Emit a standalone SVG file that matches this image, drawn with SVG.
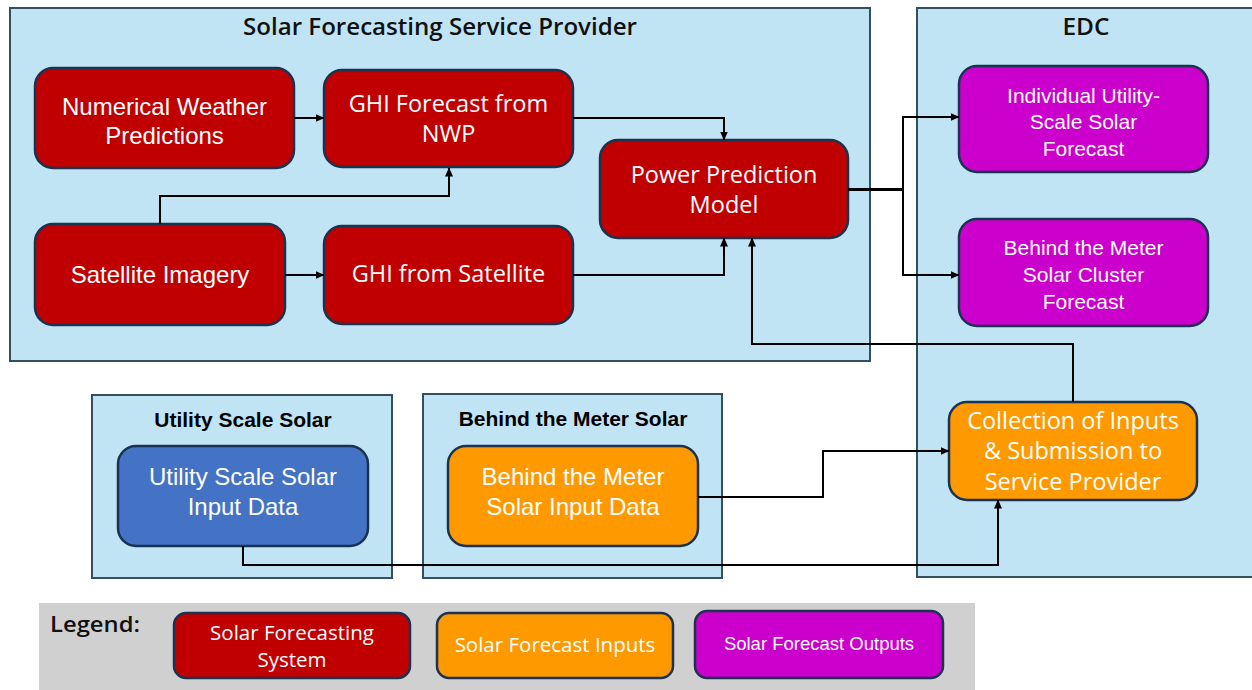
<svg xmlns="http://www.w3.org/2000/svg" width="1252" height="690" viewBox="0 0 1252 690">
<defs>
<marker id="arr" markerWidth="9" markerHeight="8" refX="8.5" refY="4" orient="auto" markerUnits="userSpaceOnUse">
<path d="M0,0 L9,4 L0,8 Z" fill="#000"/>
</marker>
<style>
.cont{fill:#C1E4F5;stroke:#34505E;stroke-width:2}
.node{stroke:#1B3350;stroke-width:2.5}
.red{fill:#C00000}
.pur{fill:#CC00CC}
.org{fill:#FF9900}
.blu{fill:#4472C4}
.ta{font-family:"Liberation Sans",Arial,sans-serif;fill:#fff;text-anchor:middle}
.tb{font-family:"Open Sans","Noto Sans",sans-serif;font-weight:500;fill:#fff;text-anchor:middle}
.head{font-family:"Open Sans","Noto Sans",sans-serif;font-weight:600;fill:#111;text-anchor:middle}
.headb{font-family:"Liberation Sans",Arial,sans-serif;font-weight:700;fill:#000;text-anchor:middle;font-size:21px}
.conn{fill:none;stroke:#000;stroke-width:2}
</style>
</defs>
<rect width="1252" height="690" fill="#fff"/>

<g id="legend">
<rect x="39" y="603" width="936" height="87" fill="#D0D0D0"/>
<text x="50" y="632" font-family="Open Sans, sans-serif" font-weight="600" font-size="22" fill="#111" textLength="90" lengthAdjust="spacingAndGlyphs">Legend:</text>
<rect class="node red" x="174" y="613" width="236" height="65" rx="12"/>
<text class="tb" font-size="20.5"><tspan x="292" y="640">Solar Forecasting</tspan><tspan x="292" y="667">System</tspan></text>
<rect class="node org" x="437" y="613" width="236" height="65" rx="12"/>
<text class="tb" x="555" y="652" font-size="20.5">Solar Forecast Inputs</text>
<rect class="node pur" x="695" y="611" width="248" height="67" rx="12"/>
<text class="ta" x="819" y="650" font-size="18.5">Solar Forecast Outputs</text>
</g>

<g id="sfsp">
<rect class="cont" x="10" y="8" width="860" height="353"/>
<text class="head" x="440" y="35" font-size="23" textLength="394" lengthAdjust="spacingAndGlyphs">Solar Forecasting Service Provider</text>
</g>
<g id="edc">
<rect class="cont" x="917" y="8" width="345" height="569"/>
<text class="head" x="1086" y="35" font-size="23" textLength="47" lengthAdjust="spacingAndGlyphs">EDC</text>
</g>
<g id="uss">
<rect class="cont" x="92" y="395" width="300" height="183"/>
<text class="headb" x="243" y="427">Utility Scale Solar</text>
</g>
<g id="btms">
<rect class="cont" x="423" y="394" width="299" height="184"/>
<text class="headb" x="573" y="426">Behind the Meter Solar</text>
</g>

<g id="nwp">
<rect class="node red" x="35" y="68" width="259" height="100" rx="18"/>
<text class="ta" font-size="24"><tspan x="164.5" y="115">Numerical Weather</tspan><tspan x="164.5" y="144">Predictions</tspan></text>
</g>
<g id="ghinwp">
<rect class="node red" x="324" y="70" width="249" height="97" rx="18"/>
<text class="tb" font-size="23.5"><tspan x="448.5" y="112">GHI Forecast from</tspan><tspan x="448.5" y="142">NWP</tspan></text>
</g>
<g id="power">
<rect class="node red" x="600" y="140" width="248" height="98" rx="18"/>
<text class="tb" font-size="23.5"><tspan x="724" y="183">Power Prediction</tspan><tspan x="724" y="213">Model</tspan></text>
</g>
<g id="sat">
<rect class="node red" x="35" y="224" width="250" height="101" rx="18"/>
<text class="ta" x="160" y="283" font-size="24">Satellite Imagery</text>
</g>
<g id="ghisat">
<rect class="node red" x="324" y="226" width="249" height="98" rx="18"/>
<text class="tb" x="448.5" y="282" font-size="23.5">GHI from Satellite</text>
</g>
<g id="indiv">
<rect class="node pur" x="959" y="66" width="249" height="106" rx="18"/>
<text class="ta" font-size="21"><tspan x="1083.5" y="103">Individual Utility-</tspan><tspan x="1083.5" y="129">Scale Solar</tspan><tspan x="1083.5" y="156">Forecast</tspan></text>
</g>
<g id="btmcluster">
<rect class="node pur" x="959" y="219" width="249" height="107" rx="18"/>
<text class="ta" font-size="21"><tspan x="1083.5" y="255">Behind the Meter</tspan><tspan x="1083.5" y="282">Solar Cluster</tspan><tspan x="1083.5" y="309">Forecast</tspan></text>
</g>
<g id="collect">
<rect class="node org" x="949" y="402" width="248" height="98" rx="18"/>
<text class="tb" font-size="23.5"><tspan x="1073" y="429">Collection of Inputs</tspan><tspan x="1073" y="459">&amp; Submission to</tspan><tspan x="1073" y="490">Service Provider</tspan></text>
</g>
<g id="ussinput">
<rect class="node blu" x="118" y="446" width="250" height="100" rx="18"/>
<text class="ta" font-size="24"><tspan x="243" y="485">Utility Scale Solar</tspan><tspan x="243" y="515">Input Data</tspan></text>
</g>
<g id="btminput">
<rect class="node org" x="448" y="446" width="250" height="100" rx="18"/>
<text class="ta" font-size="24"><tspan x="573" y="485">Behind the Meter</tspan><tspan x="573" y="515">Solar Input Data</tspan></text>
</g>

<g id="connectors">
<path class="conn" d="M294,118 H324" marker-end="url(#arr)"/>
<path class="conn" d="M573,118 H724 V140" marker-end="url(#arr)"/>
<path class="conn" d="M160,224 V196 H449 V168" marker-end="url(#arr)"/>
<path class="conn" d="M285,275 H324" marker-end="url(#arr)"/>
<path class="conn" d="M573,275 H724 V238" marker-end="url(#arr)"/>
<path class="conn" d="M848,189 H903 V117 H959" marker-end="url(#arr)"/>
<path class="conn" d="M848,190 H903 V275 H959" marker-end="url(#arr)"/>
<path class="conn" d="M1073,402 V344 H752 V238" marker-end="url(#arr)"/>
<path class="conn" d="M698,497 H823 V451 H949" marker-end="url(#arr)"/>
<path class="conn" d="M243,546 V565 H998 V500" marker-end="url(#arr)"/>
</g>
</svg>
